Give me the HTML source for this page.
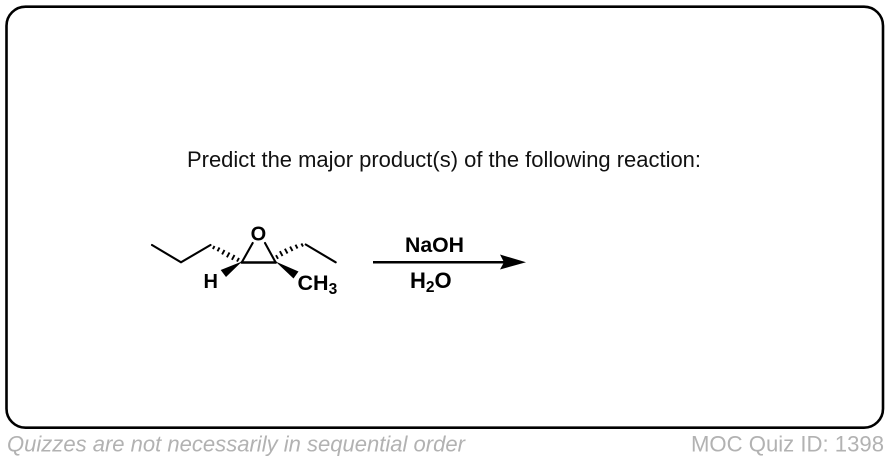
<!DOCTYPE html>
<html><head><meta charset="utf-8"><style>html,body{margin:0;padding:0;background:#fff}svg{display:block}text{font-family:"Liberation Sans",Arial,sans-serif}</style></head>
<body>
<svg width="890" height="462" viewBox="0 0 890 462" xmlns="http://www.w3.org/2000/svg">
<rect x="6.5" y="6.7" width="876.5" height="421" rx="19" ry="19" fill="#fff" stroke="#000" stroke-width="2.6"/>
<text x="187" y="167" font-size="22" fill="#111" textLength="514" lengthAdjust="spacingAndGlyphs">Predict the major product(s) of the following reaction:</text>
<g stroke="#000" stroke-width="2.1" fill="none" stroke-linecap="round">
<polyline points="152,245 181,262.3 210.5,245"/>
<polyline points="305.7,244.5 335.7,262.3"/>
<path d="M241.7,262.5 H275.7" stroke-width="2.5"/>
<path d="M241.7,262.5 L252.7,243 M275.7,262.5 L265,243"/>
</g>
<g stroke="#000" stroke-width="1.9" fill="none">
<path d="M214.5,246 l-1.6,3 M219.5,247.5 l-2,3.8 M224.5,250 l-2.4,4.4 M229.5,252.5 l-2.6,4.8 M234.5,255 l-2.6,4.8 M239,258 l-2,3.6"/>
<path d="M303,246.5 l-1.6,-3 M297.5,248.5 l-2,-3.8 M292.5,251 l-2.4,-4.4 M287.5,253.5 l-2.6,-4.8 M282.5,256 l-2.6,-4.8 M278,258.8 l-2,-3.6"/>
</g>
<polygon points="242,261.5 220.7,270 226,277" fill="#000"/>
<polygon points="275.5,261.5 298.5,271.5 293.5,278.5" fill="#000"/>
<g font-size="20" font-weight="bold" fill="#000">
<text x="250.6" y="240.7">O</text>
<text x="203.5" y="288">H</text>
<text x="297.5" y="290" font-size="21.5">CH<tspan font-size="15.5" dy="4">3</tspan></text>
<text x="405" y="252" font-size="21" textLength="59" lengthAdjust="spacingAndGlyphs">NaOH</text>
<text x="410" y="288" font-size="22">H<tspan font-size="15.5" dy="4">2</tspan><tspan dy="-4">O</tspan></text>
</g>
<path d="M373,262.3 H506" stroke="#000" stroke-width="2.5"/>
<polygon points="526,262.3 500,254.5 504,262.3 500,269.5" fill="#000"/>
<text x="7" y="451.5" font-size="22" font-style="italic" fill="#b2b2b2" textLength="458" lengthAdjust="spacingAndGlyphs">Quizzes are not necessarily in sequential order</text>
<text x="691" y="451.5" font-size="22" fill="#b2b2b2" textLength="193" lengthAdjust="spacingAndGlyphs">MOC Quiz ID: 1398</text>
</svg>
</body></html>
